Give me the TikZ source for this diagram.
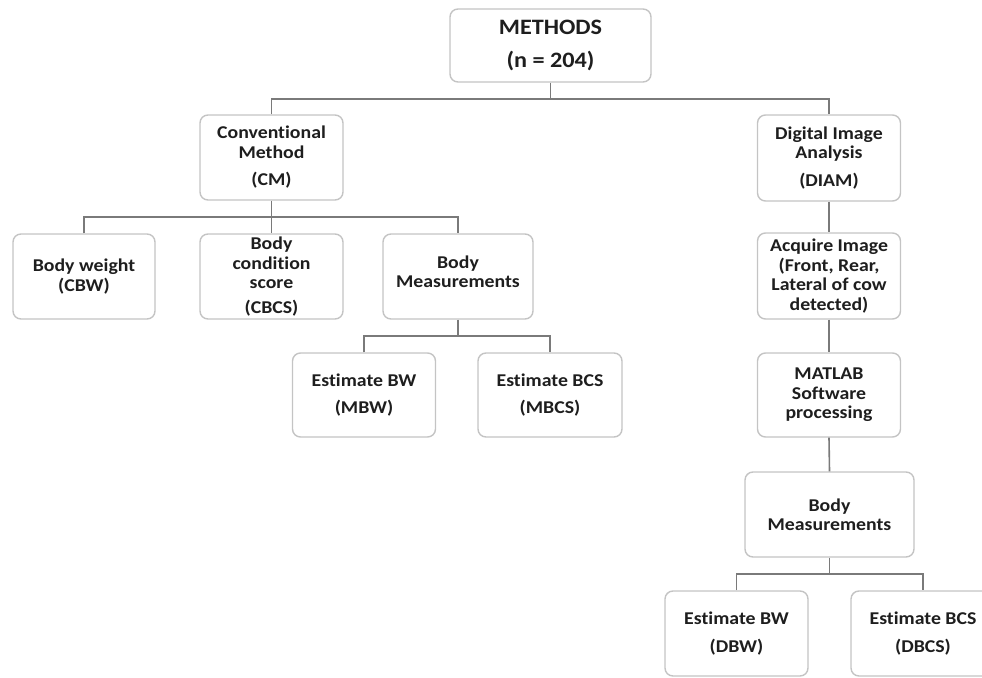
\documentclass[tikz,border=0pt]{standalone}
\usepackage{fontspec}
\setmainfont{Carlito}[FakeStretch=1.1, Ligatures=NoCommon]
\definecolor{boxgray}{HTML}{C4C4C4}
\definecolor{linegray}{HTML}{7A7A7A}
\definecolor{txt}{HTML}{1E1E1E}
\begin{document}
\begin{tikzpicture}[x=1pt,y=-1pt,
  box/.style={draw=boxgray, line width=1.4pt, rounded corners=8pt, fill=white,
    align=center, inner sep=0pt, text=txt,
    font=\bfseries\fontsize{18}{19.5}\selectfont},
  conn/.style={draw=linegray, line width=1.6pt}]
\useasboundingbox (0,0) rectangle (982,677);

% nodes
\node[box, minimum width=201pt, minimum height=73pt,
  font=\bfseries\fontsize{22}{33}\selectfont] (methods) at (550.5,45.5)
  {METHODS\\(n = 204)};
\node[box, minimum width=143pt, minimum height=85pt] (cm) at (271.5,157.5)
  {Conventional\\Method\\[8pt](CM)};
\node[box, minimum width=143pt, minimum height=86pt] (diam) at (829,158)
  {Digital Image\\Analysis\\[8pt](DIAM)};
\node[box, minimum width=142pt, minimum height=85pt] (bw) at (84,276.5)
  {Body weight\\(CBW)};
\node[box, minimum width=143pt, minimum height=85pt] (bcs) at (271.5,276.5)
  {Body\\condition\\score\\[5pt](CBCS)};
\node[box, minimum width=150pt, minimum height=85pt] (bm) at (458,276.5)
  {Body\\Measurements\\[-10pt]\mbox{}};
\node[box, minimum width=143pt, minimum height=84pt] (mbw) at (364,395)
  {Estimate BW\\[7pt](MBW)};
\node[box, minimum width=144pt, minimum height=84pt] (mbcs) at (550,395)
  {Estimate BCS\\[7pt](MBCS)};
\node[box, minimum width=143pt, minimum height=86pt] (acq) at (829,276)
  {Acquire Image\\(Front, Rear,\\Lateral of cow\\detected)};
\node[box, minimum width=143pt, minimum height=84pt] (matlab) at (829,395)
  {MATLAB\\Software\\processing};
\node[box, minimum width=169pt, minimum height=85pt] (bm2) at (829.5,514.5)
  {Body\\Measurements};
\node[box, minimum width=143pt, minimum height=85pt] (dbw) at (736.5,633.5)
  {Estimate BW\\[8pt](DBW)};
\node[box, minimum width=144pt, minimum height=85pt] (dbcs) at (923,633.5)
  {Estimate BCS\\[8pt](DBCS)};

% junctions
\coordinate (j1) at (550.5,99);
\coordinate (j2) at (271.5,217);
\coordinate (j3) at (458,336);
\coordinate (j4) at (829.5,574);

% connectors
\draw[conn] (methods.south) -- (j1);
\draw[conn] (cm.north) |- (j1) -| (diam.north);
\draw[conn] (cm.south) -- (bcs.north);
\draw[conn] (bw.north) |- (j2) -| (bm.north);
\draw[conn] (bm.south) -- (j3);
\draw[conn] (mbw.north) |- (j3) -| (mbcs.north);
\draw[conn] (diam.south) -- (acq.north);
\draw[conn] (acq.south) -- (matlab.north);
\draw[conn] (matlab.south) -- (bm2.north);
\draw[conn] (bm2.south) -- (j4);
\draw[conn] (dbw.north) |- (j4) -| (dbcs.north);
\end{tikzpicture}
\end{document}
